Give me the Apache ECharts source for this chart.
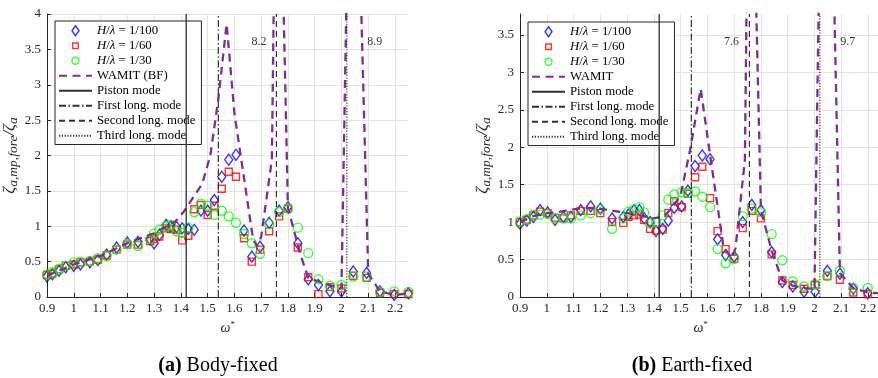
<!DOCTYPE html>
<html>
<head>
<meta charset="utf-8">
<script src="https://cdn.jsdelivr.net/npm/echarts@6/dist/echarts.min.js"></script>
<style>
  html, body { margin: 0; padding: 0; background: #fff; }
  #chart { width: 878px; height: 378px; }
</style>
</head>
<body>
<div id="chart"></div>
<script>
// ---------- Body-fixed (BF) measurements ----------
const omegaBF = [0.90, 0.92, 0.945, 0.97, 1.00, 1.025, 1.06, 1.09, 1.123, 1.16, 1.20, 1.24, 1.285, 1.30,
  1.32, 1.345, 1.363, 1.384, 1.405, 1.428, 1.45, 1.475, 1.50, 1.525, 1.553, 1.579, 1.606, 1.636,
  1.665, 1.696, 1.73, 1.767, 1.80, 1.837, 1.876, 1.914, 1.957, 2.0, 2.044, 2.094, 2.144, 2.197, 2.25];
const amp100BF = [0.29, 0.32, 0.37, 0.42, 0.44, 0.46, 0.49, 0.52, 0.60, 0.70, 0.77, 0.78, 0.81, 0.76,
  0.88, 1.02, 1.00, 0.99, 0.97, 0.96, 0.95, 1.22, 1.22, 1.37, 1.70, 1.94, 2.01, 0.94,
  0.57, 0.71, 1.05, 1.22, 1.27, 0.76, 0.25, 0.17, 0.08, 0.08, 0.36, 0.34, 0.08, 0.03, 0.05];
const amp60BF = [0.31, 0.33, 0.39, 0.44, 0.46, 0.49, 0.50, 0.53, 0.59, 0.67, 0.74, 0.74, 0.79, 0.82,
  0.855, 0.97, 0.96, 0.95, 0.80, 0.865, 1.24, 1.30, 1.16, 1.29, 1.53, 1.77, 1.70, 0.83,
  0.50, 0.67, 0.93, 1.14, 1.25, 0.70, 0.28, 0.04, 0.14, 0.12, 0.30, 0.27, 0.06, 0.04, 0.04];
const amp30BF = [0.32, 0.35, 0.40, 0.44, 0.49, 0.50, 0.51, 0.55, 0.58, 0.67, 0.75, 0.72, 0.82, 0.90,
  0.95, 1.00, 1.02, 0.93, 0.91, 0.98, 1.20, 1.32, 1.29, 1.16, 1.22, 1.14, 1.05, 0.89,
  0.76, 0.61, 1.03, 1.20, 1.25, 0.98, 0.62, 0.25, 0.16, 0.17, 0.29, 0.29, 0.07, 0.08, 0.07];
const omegaWamitBF = [0.90, 1.0, 1.1, 1.21, 1.30, 1.38, 1.41, 1.48, 1.51, 1.54, 1.571, 1.60, 1.67, 1.685,
  1.70, 1.74, 1.76, 1.80, 1.845, 1.876, 1.97, 2.0, 2.04, 2.10, 2.144, 2.197, 2.25];
const wamitBF = [0.30, 0.46, 0.58, 0.78, 0.90, 1.07, 1.20, 1.60, 2.0, 2.8, 3.86, 2.6, 0.81, 0.72,
  0.85, 1.94, 8.2, 1.26, 0.62, 0.27, 0.15, 0.12, 8.9, 0.33, 0.08, 0.03, 0.05];

// ---------- Earth-fixed (EF) measurements ----------
const omegaEF = [0.90, 0.925, 0.95, 0.975, 1.003, 1.031, 1.062, 1.09, 1.127, 1.164, 1.20, 1.244, 1.286,
  1.305, 1.326, 1.346, 1.364, 1.386, 1.408, 1.433, 1.454, 1.476, 1.504, 1.527, 1.554, 1.581, 1.61,
  1.638, 1.668, 1.70, 1.732, 1.766, 1.80, 1.84, 1.88, 1.919, 1.961, 2.002, 2.048, 2.095, 2.145, 2.199];
const amp100EF = [0.98, 1.02, 1.07, 1.16, 1.13, 1.03, 1.07, 1.07, 1.16, 1.21, 1.18, 1.05, 1.07,
  1.10, 1.16, 1.16, 1.05, 1.00, 0.88, 0.91, 1.02, 1.19, 1.21, 1.42, 1.75, 1.89, 1.84,
  0.77, 0.56, 0.54, 1.00, 1.23, 1.16, 0.60, 0.20, 0.14, 0.07, 0.07, 0.35, 0.31, 0.11, 0.05];
const amp60EF = [1.00, 1.03, 1.09, 1.14, 1.12, 1.06, 1.05, 1.09, 1.15, 1.15, 1.12, 1.00, 0.99,
  1.07, 1.09, 1.10, 1.03, 0.91, 0.89, 0.90, 1.12, 1.28, 1.20, 1.38, 1.60, 1.74, 1.32,
  0.88, 0.64, 0.51, 0.92, 1.15, 1.05, 0.57, 0.22, 0.16, 0.11, 0.16, 0.28, 0.23, 0.06, 0.04];
const amp30EF = [1.01, 1.04, 1.10, 1.10, 1.11, 1.05, 1.05, 1.05, 1.09, 1.12, 1.17, 0.91, 1.05,
  1.14, 1.17, 1.20, 1.13, 0.98, 1.00, 1.09, 1.30, 1.37, 1.40, 1.39, 1.41, 1.34, 1.20,
  0.64, 0.45, 0.51, 1.08, 1.18, 1.13, 0.84, 0.49, 0.21, 0.14, 0.17, 0.28, 0.35, 0.12, 0.12];
const omegaWamitEF = [0.90, 0.95, 1.0, 1.05, 1.1, 1.15, 1.2, 1.25, 1.3, 1.35, 1.4, 1.44, 1.47, 1.50,
  1.535, 1.575, 1.61, 1.66, 1.69, 1.705, 1.74, 1.758, 1.80, 1.84, 1.88, 1.92, 1.96, 2.0, 2.04,
  2.095, 2.145, 2.2, 2.25];
const wamitEF = [1.0, 1.08, 1.12, 1.14, 1.17, 1.19, 1.18, 1.15, 1.12, 1.09, 1.05, 1.08, 1.2, 1.36,
  1.96, 2.78, 1.9, 0.67, 0.52, 0.65, 1.83, 7.6, 1.16, 0.62, 0.22, 0.15, 0.12, 0.11, 9.7,
  0.32, 0.12, 0.06, 0.05];

// ---------- Natural modes of the moonpool (non-dimensional frequency) ----------
const modeNames = ['Piston mode', 'First long. mode', 'Second long. mode', 'Third long. mode'];
const modeOmega = [1.42, 1.54, 1.757, 2.02];

// ---------- Axis ranges ----------
const xRange = [0.9, 2.25];
const yMaxBF = 4;
const yMaxEF = 3.78;

const waveNames = ['H/λ = 1/100', 'H/λ = 1/60', 'H/λ = 1/30'];

// ---------- Styling ----------
const FONT = '"Liberation Serif", "DejaVu Serif", serif';
const AXIS_COLOR = '#262626';
const GRID_COLOR = '#e3e3e3';
const PURPLE = '#7E2F8E';
const MODE_COLOR = '#303030';
const markerStyles = [
  { symbol: 'diamond', symbolSize: [8, 11], color: '#0000FF',
    icon: 'path://M5,0L8.5,5L5,10L1.5,5Z' },
  { symbol: 'rect', symbolSize: 7, color: '#FF0000',
    icon: 'path://M0,0L0,0M10,10L10,10M2.2,2.2L7.8,2.2L7.8,7.8L2.2,7.8Z' },
  { symbol: 'circle', symbolSize: 9, color: '#00FF00',
    icon: 'path://M0,0L0,0M10,10L10,10M8.5,5A3.5,3.5,0,1,1,1.5,5A3.5,3.5,0,1,1,8.5,5Z' }
];
const modeDash = ['solid', [7, 2.5, 1.5, 2.5], [6, 4], [1.2, 1.6]];

const zip = (xs, ys) => xs.map((x, i) => [x, ys[i]]);

const grids = [
  { left: 47, top: 14, width: 361.4, height: 283 },
  { left: 520, top: 14, width: 361.4, height: 283 }
];

function xAxisFor(gridIndex) {
  return {
    type: 'value', gridIndex, min: xRange[0], max: xRange[1], interval: 0.1,
    name: '{i|ω}{sup|*}', nameLocation: 'middle', nameGap: 14,
    nameTextStyle: {
      color: '#262626', fontFamily: FONT,
      rich: {
        i: { fontFamily: FONT, fontSize: 14, fontStyle: 'italic', color: '#262626' },
        sup: { fontFamily: FONT, fontSize: 9, color: '#262626', padding: [0, 0, 7, 0] }
      }
    },
    axisLine: { show: true, onZero: false, lineStyle: { color: AXIS_COLOR, width: 1 } },
    axisTick: { show: true, inside: true, length: 4, lineStyle: { color: AXIS_COLOR } },
    axisLabel: { show: true, margin: 5, showMaxLabel: false, fontFamily: FONT, fontSize: 13, color: '#262626' },
    splitLine: { show: true, showMaxLine: false, lineStyle: { color: GRID_COLOR, width: 1 } }
  };
}

function yAxisFor(gridIndex, yMax) {
  return {
    type: 'value', gridIndex, min: 0, max: yMax, interval: 0.5,
    name: '{z|ζ}{s|a,mp,fore}{z|/ζ}{s|a}', nameLocation: 'middle', nameRotate: 90, nameGap: 23,
    nameTextStyle: {
      color: '#262626', fontFamily: FONT,
      rich: {
        z: { fontFamily: FONT, fontSize: 17, fontStyle: 'italic', color: '#262626' },
        s: { fontFamily: FONT, fontSize: 13.5, fontStyle: 'italic', color: '#262626', padding: [8, 0, 0, 0] }
      }
    },
    axisLine: { show: true, onZero: false, lineStyle: { color: AXIS_COLOR, width: 1 } },
    axisTick: { show: true, inside: true, length: 4, lineStyle: { color: AXIS_COLOR } },
    axisLabel: { show: true, margin: 6, showMaxLabel: yMax % 0.5 === 0, fontFamily: FONT, fontSize: 13, color: '#262626' },
    splitLine: { show: true, showMaxLine: yMax % 0.5 === 0, lineStyle: { color: GRID_COLOR, width: 1 } }
  };
}

function panelSeries(idx, omega, amps, omegaW, wamit, wamitName, yMax) {
  const out = [];
  amps.forEach((vals, k) => {
    const m = markerStyles[k];
    out.push({
      name: waveNames[k], type: 'scatter', xAxisIndex: idx, yAxisIndex: idx,
      symbol: m.symbol, symbolSize: m.symbolSize,
      itemStyle: { color: 'rgba(255,255,255,0)', borderColor: m.color, borderWidth: 1.4 },
      data: zip(omega, vals), z: 3, silent: true
    });
  });
  out.push({
    name: wamitName, type: 'line', xAxisIndex: idx, yAxisIndex: idx,
    symbol: 'none', clip: true, silent: true,
    lineStyle: { color: PURPLE, width: 2.3, type: [8, 5.5] },
    itemStyle: { color: PURPLE },
    data: zip(omegaW, wamit), z: 4
  });
  modeOmega.forEach((w, k) => {
    out.push({
      name: modeNames[k], type: 'line', xAxisIndex: idx, yAxisIndex: idx,
      symbol: 'none', clip: true, silent: true,
      lineStyle: { color: MODE_COLOR, width: k === 0 ? 1.3 : 1.2, type: modeDash[k] },
      itemStyle: { color: MODE_COLOR },
      data: [[w, 0], [w, yMax]], z: 5
    });
  });
  // Off-scale WAMIT resonance peaks: their values are written next to the spikes
  const peaks = omegaW.map((w, i) => [w, wamit[i]]).filter(p => p[1] > yMax);
  out.push({
    type: 'scatter', xAxisIndex: idx, yAxisIndex: idx, symbolSize: 0, silent: true, z: 6,
    data: peaks.map((p, j) => ({
      value: [p[0] + (j === 0 ? -0.068 : 0.084), yMax * 0.903],
      peak: p[1]
    })),
    label: {
      show: true, position: 'inside', fontFamily: FONT, fontSize: 12, color: '#000',
      formatter: (params) => params.data.peak.toFixed(1)
    }
  });
  return out;
}

// line-only legend entries: hide the default marker drawn on the line sample
const noMarker = { color: 'rgba(0,0,0,0)', borderColor: 'rgba(0,0,0,0)', borderWidth: 0 };

function legendFor(left, top, wamitName) {
  const data = waveNames.map((n, k) => ({ name: n, icon: markerStyles[k].icon }))
    .concat([{ name: wamitName, itemStyle: noMarker }],
      modeNames.map(n => ({ name: n, itemStyle: noMarker })));
  return {
    orient: 'vertical', left, top,
    backgroundColor: '#fff', borderColor: '#262626', borderWidth: 1, borderRadius: 0,
    padding: [3, 6, 2, 3], itemGap: 1.5, itemWidth: 33, itemHeight: 10,
    selectedMode: false,
    itemStyle: { borderWidth: 1.4 },
    textStyle: {
      fontFamily: FONT, fontSize: 12.8, color: '#000', lineHeight: 13.5,
      rich: { i: { fontFamily: FONT, fontSize: 12.8, fontStyle: 'italic', color: '#000', lineHeight: 13.5 } }
    },
    formatter: (name) => name.startsWith('H/λ')
      ? '{i|H}/{i|λ} = ' + name.split('= ')[1]
      : name,
    data
  };
}

const chart = echarts.init(document.getElementById('chart'), null, { renderer: 'canvas' });
chart.setOption({
  animation: false,
  backgroundColor: '#fff',
  grid: grids.map(g => Object.assign({ containLabel: false, outerBoundsMode: 'none' }, g)),
  xAxis: [xAxisFor(0), xAxisFor(1)],
  yAxis: [yAxisFor(0, yMaxBF), yAxisFor(1, yMaxEF)],
  legend: [legendFor(55, 21, 'WAMIT (BF)'), legendFor(528, 22, 'WAMIT')],
  series: [].concat(
    panelSeries(0, omegaBF, [amp100BF, amp60BF, amp30BF], omegaWamitBF, wamitBF, 'WAMIT (BF)', yMaxBF),
    panelSeries(1, omegaEF, [amp100EF, amp60EF, amp30EF], omegaWamitEF, wamitEF, 'WAMIT', yMaxEF)
  ),
  graphic: [
    { type: 'text', x: 218, y: 366, silent: true,
      style: { text: '{b|(a)} Body-fixed', fontFamily: FONT, fontSize: 20, fill: '#000',
        align: 'center', verticalAlign: 'middle',
        rich: { b: { fontFamily: FONT, fontSize: 20, fontWeight: 'bold', fill: '#000' } } } },
    { type: 'text', x: 692, y: 366, silent: true,
      style: { text: '{b|(b)} Earth-fixed', fontFamily: FONT, fontSize: 20, fill: '#000',
        align: 'center', verticalAlign: 'middle',
        rich: { b: { fontFamily: FONT, fontSize: 20, fontWeight: 'bold', fill: '#000' } } } }
  ]
});
</script>
</body>
</html>
